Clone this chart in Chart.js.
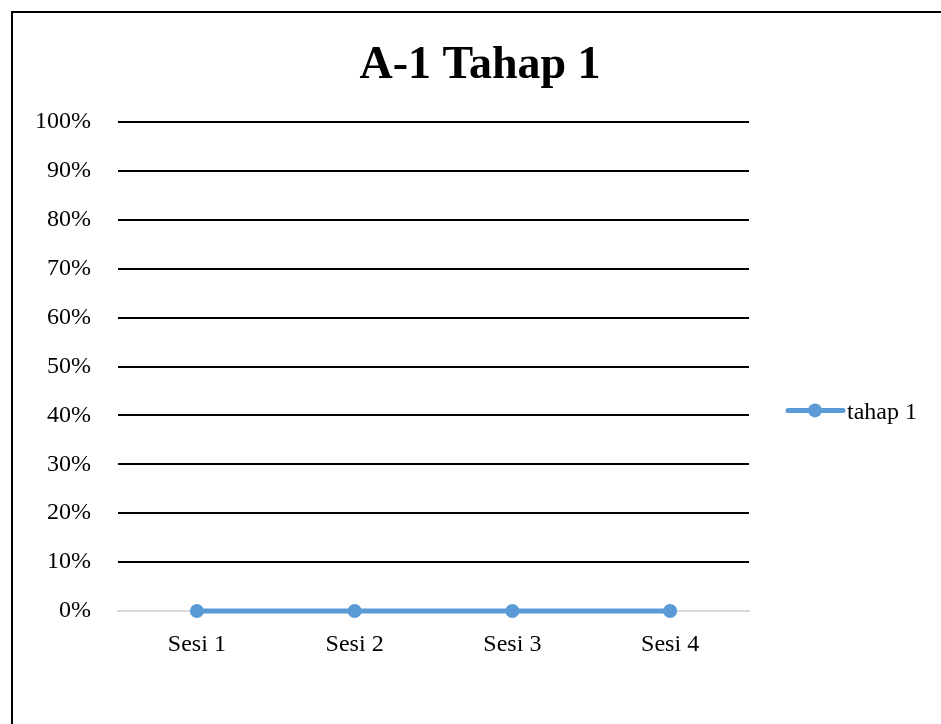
<!DOCTYPE html>
<html>
<head>
<meta charset="utf-8">
<script src="https://cdn.jsdelivr.net/npm/chart.js@4/dist/chart.umd.min.js"></script>
<style>
  html, body { margin: 0; padding: 0; background: #fff; overflow: hidden; }
  #frame { position: absolute; left: 11px; top: 11px; width: 1000px; height: 1000px; border: 2px solid #000; box-sizing: border-box; }
  #c { position: absolute; left: 0; top: 0; }
</style>
</head>
<body>
<div id="frame"></div>
<canvas id="c" width="941" height="724"></canvas>
<script>
// Sessions on the x axis and the share reached in each one (percent)
const categories = ['Sesi 1', 'Sesi 2', 'Sesi 3', 'Sesi 4'];
const tahap1 = [0, 0, 0, 0];
const seriesName = 'tahap 1';
const chartTitle = 'A-1 Tahap 1';
const yTicks = [0, 10, 20, 30, 40, 50, 60, 70, 80, 90, 100];

const SERIF = '"Liberation Serif", "Times New Roman", serif';
const BLUE = '#5B9BD5';

// Title and right-hand legend drawn on the canvas
const decorations = {
  id: 'decorations',
  afterDraw(chart) {
    const ctx = chart.ctx;
    const area = chart.chartArea;
    ctx.save();
    ctx.fillStyle = '#000';
    ctx.font = 'bold 46px ' + SERIF;
    ctx.textAlign = 'center';
    ctx.textBaseline = 'alphabetic';
    ctx.fillText(chartTitle, 480, 78);

    const ly = chart.scales.y.getPixelForValue(40) - 5;
    const lx = area.right + 39;
    ctx.strokeStyle = BLUE;
    ctx.lineWidth = 5;
    ctx.lineCap = 'round';
    ctx.beginPath();
    ctx.moveTo(lx, ly);
    ctx.lineTo(lx + 55, ly);
    ctx.stroke();
    ctx.fillStyle = BLUE;
    ctx.beginPath();
    ctx.arc(lx + 27, ly, 7, 0, Math.PI * 2);
    ctx.fill();
    ctx.fillStyle = '#000';
    ctx.font = '24px ' + SERIF;
    ctx.textAlign = 'left';
    ctx.textBaseline = 'middle';
    ctx.fillText(seriesName, lx + 59, ly + 2);
    ctx.restore();
  }
};

new Chart(document.getElementById('c'), {
  type: 'line',
  data: {
    labels: categories,
    datasets: [{
      label: seriesName,
      data: tahap1,
      borderColor: BLUE,
      backgroundColor: BLUE,
      borderWidth: 5,
      pointRadius: 7,
      pointBorderWidth: 0,
      pointBackgroundColor: BLUE,
      tension: 0,
      clip: false
    }]
  },
  options: {
    responsive: false,
    animation: false,
    layout: { padding: { left: 0, right: 192, top: 122, bottom: 0 } },
    plugins: {
      legend: { display: false },
      title: { display: false },
      tooltip: { enabled: false }
    },
    scales: {
      x: {
        offset: true,
        grid: { display: false },
        border: { display: true, color: '#d9d9d9', width: 2 },
        ticks: { color: '#000', font: { family: SERIF, size: 24 }, padding: 11 },
        afterFit(scale) { scale.height = 113; }
      },
      y: {
        min: 0,
        max: 100,
        afterBuildTicks(scale) { scale.ticks = yTicks.map(v => ({ value: v })); },
        grid: {
          drawTicks: false,
          color: ctx => (ctx.tick && ctx.tick.value === 0) ? '#d9d9d9' : '#000',
          lineWidth: ctx => (ctx.tick && ctx.tick.value === 0) ? 2 : 2
        },
        border: { display: false },
        ticks: {
          color: '#000',
          font: { family: SERIF, size: 24 },
          padding: 27,
          callback: v => v + '%'
        },
        afterFit(scale) { scale.width = 118; }
      }
    }
  },
  plugins: [decorations]
});
</script>
</body>
</html>
